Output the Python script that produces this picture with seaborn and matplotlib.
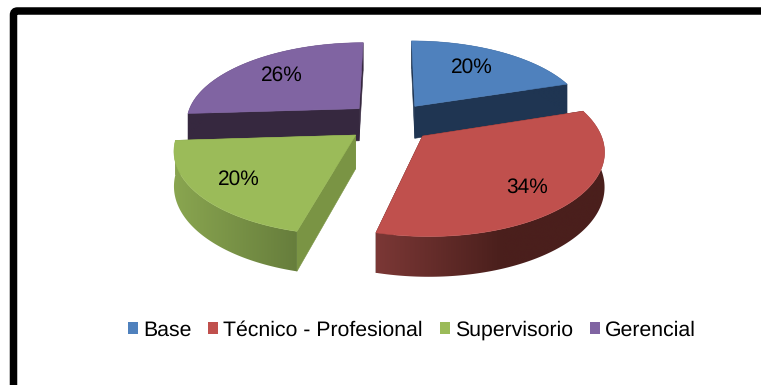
import numpy as np
import matplotlib
matplotlib.use("Agg")
import matplotlib.pyplot as plt
import seaborn as sns
from matplotlib.colors import LinearSegmentedColormap, to_rgb
from matplotlib.patches import Patch, Polygon, FancyBboxPatch

categories = ["Base", "Técnico - Profesional", "Supervisorio", "Gerencial"]
shares = [20, 34, 20, 26]
tops = ["#4F81BD", "#C0504D", "#9BBB59", "#8064A2"]
wall_flat = ["#1F3552", "#4A1F1C", "#7A9444", "#36283F"]
rim_left = ["#1F3552", "#7C3836", "#8AA650", "#36283F"]
rim_right = ["#1F3552", "#4A1F1C", "#667D3C", "#36283F"]
rim_span = [1.0, 0.55, 1.0, 1.0]
label_radius = [0.68, 0.76, 0.765, 0.69]
label_turn = [-2, 4, 0, 0]

sns.set_theme(style="white")
plt.rcParams["font.family"] = ["Liberation Sans", "DejaVu Sans"]
plt.rcParams["text.hinting"] = "no_hinting"

CX, CY = 390.0, 122.0
RX, RY = 174.0, 80.0
PERSPECTIVE = 0.155
THICKNESS = 33.0
EXPLODE = 0.25
START = 0.0


def project(x, y, z=0.0):
    """Map pie-plane coordinates to canvas pixels with a simple perspective."""
    w = 1 + PERSPECTIVE * y
    return CX + RX * x / w, CY - RY * y / w + THICKNESS * z / w


fig = plt.figure(figsize=(7.61, 3.85), dpi=100)
ax = fig.add_axes([0, 0, 1, 1])
ax.set_xlim(0, 761)
ax.set_ylim(385, 0)
ax.axis("off")

# Thick rounded frame; only its top and left sides fall inside the canvas
ax.add_patch(FancyBboxPatch((13.5, 11), 800, 420, boxstyle="round,pad=0,rounding_size=4",
                            fc="white", ec="black", lw=5.4, zorder=0))

fractions = np.array(shares) / sum(shares)
ends = START + np.cumsum(fractions) * 360
starts = np.r_[START, ends[:-1]]


def draw_slice(i, z):
    a = np.radians(np.linspace(starts[i], ends[i], 120))
    mid = np.radians((starts[i] + ends[i]) / 2)
    ox, oy = EXPLODE * np.sin(mid), EXPLODE * np.cos(mid)
    xs, ys = ox + np.sin(a), oy + np.cos(a)

    # straight cut faces, from the apex out to both ends of the arc
    for k in (0, -1):
        xa, ya = project(ox, oy)
        xb, yb = project(xs[k], ys[k])
        xc, yc = project(xs[k], ys[k], 1)
        xd, yd = project(ox, oy, 1)
        ax.add_patch(Polygon([(xa, ya), (xb, yb), (xc, yc), (xd, yd)], fc=wall_flat[i],
                             ec=wall_flat[i], lw=0.4, zorder=z))

    # curved rim: a horizontal colour ramp clipped to the rim outline
    px0, py0 = project(xs, ys)
    px1, py1 = project(xs, ys, 1)
    rim = Polygon(np.r_[np.c_[px0, py0], np.c_[px1, py1][::-1]], fc="none", ec="none",
                  transform=ax.transData)
    ax.add_patch(rim)
    cmap = LinearSegmentedColormap.from_list(
        "rim", [(0, to_rgb(rim_left[i])), (rim_span[i], to_rgb(rim_right[i])), (1, to_rgb(rim_right[i]))],
    )
    ramp = np.linspace(0, 1, 256)[None, :]
    img = ax.imshow(ramp, cmap=cmap, aspect="auto", interpolation="bilinear", zorder=z + 0.1,
                    extent=(px0.min() - 2, px0.max() + 2, py1.max() + 2, py0.min() - 2))
    img.set_clip_path(rim)

    # flat top surface
    tx, ty = project(np.r_[ox, xs], np.r_[oy, ys])
    ax.add_patch(Polygon(np.c_[tx, ty], fc=tops[i], ec=tops[i], lw=0.4, zorder=z + 0.2))

    # value label on the top surface
    f = label_radius[i]
    turned = mid + np.radians(label_turn[i])
    lx, ly = project(ox + f * np.sin(turned), oy + f * np.cos(turned))
    ax.text(lx, ly, f"{shares[i]}%", ha="center", va="center", fontsize=15,
            color="black", zorder=6)


# back slices first so the front slices overlap them
for order, idx in enumerate([0, 3, 2, 1]):
    draw_slice(idx, 1 + order)

ax.set_xlim(0, 761)
ax.set_ylim(385, 0)

handles = [Patch(fc=c, ec="none") for c in tops]
fig.legend(handles, categories, loc="center", bbox_to_anchor=(412 / 761, 1 - 330 / 385), ncol=4,
           frameon=False, fontsize=15.3, labelcolor="black", handlelength=0.47, handleheight=0.47,
           handletextpad=0.24, columnspacing=0.8, borderpad=0)

fig.savefig("out.png", dpi=100)
